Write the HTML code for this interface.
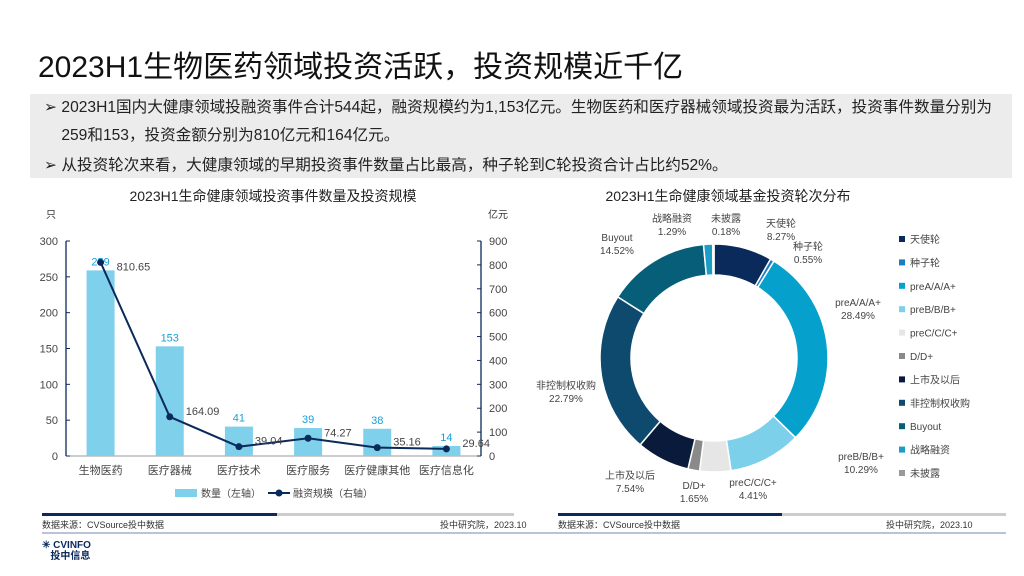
<!DOCTYPE html>
<html><head><meta charset="utf-8"><style>
body{margin:0;width:1024px;height:576px;background:#fff;font-family:"Liberation Sans","Noto Sans CJK SC",sans-serif;position:relative;overflow:hidden;color:#222}
.abs{position:absolute}
</style></head><body>
<div class="abs" style="left:38px;top:42px;font-size:30px;color:#111">2023H1生物医药领域投资活跃，投资规模近千亿</div>
<div class="abs" style="left:30px;top:94px;width:982px;height:84px;background:#ececec"></div>
<div class="abs" style="left:44px;top:94px;width:970px;font-size:15.6px;line-height:28px;color:#222;white-space:nowrap">
<div>➢ 2023H1国内大健康领域投融资事件合计544起，融资规模约为1,153亿元。生物医药和医疗器械领域投资最为活跃，投资事件数量分别为<br>&nbsp;&nbsp;&nbsp;&nbsp;259和153，投资金额分别为810亿元和164亿元。</div>
<div style="margin-top:2px">➢ 从投资轮次来看，大健康领域的早期投资事件数量占比最高，种子轮到C轮投资合计占比约52%。</div>
</div>
<svg class="abs" style="left:0;top:0" width="1024" height="576" id="svg"></svg>
<div class="abs" style="left:42px;top:513px;width:235px;height:3px;background:#0b2a5c"></div>
<div class="abs" style="left:277px;top:513px;width:237px;height:3px;background:#ccc"></div>
<div class="abs" style="left:558px;top:513px;width:224px;height:3px;background:#0b2a5c"></div>
<div class="abs" style="left:782px;top:513px;width:224px;height:3px;background:#ccc"></div>
<div class="abs" style="left:42px;top:518px;font-size:9px;color:#333">数据来源：CVSource投中数据</div>
<div class="abs" style="left:440px;top:518px;font-size:9px;color:#333">投中研究院，2023.10</div>
<div class="abs" style="left:558px;top:518px;font-size:9px;color:#333">数据来源：CVSource投中数据</div>
<div class="abs" style="left:886px;top:518px;font-size:9px;color:#333">投中研究院，2023.10</div>
<div class="abs" style="left:42px;top:532px;width:964px;height:2px;background:#b8c4d8"></div>
<div class="abs" style="left:42px;top:540px;font-size:10px;color:#0b2a5c;font-weight:bold;line-height:11px">✳ CVINFO<br>&nbsp;&nbsp;&nbsp;投中信息</div>
<script>
const categories=["生物医药","医疗器械","医疗技术","医疗服务","医疗健康其他","医疗信息化"];
const counts=[259,153,41,39,38,14];
const amounts=[810.65,164.09,39.04,74.27,35.16,29.64];
const leftTicks=[0,50,100,150,200,250,300];
const rightTicks=[0,100,200,300,400,500,600,700,800,900];
const roundNames=["天使轮","种子轮","preA/A/A+","preB/B/B+","preC/C/C+","D/D+","上市及以后","非控制权收购","Buyout","战略融资","未披露"];
const roundPct=[8.27,0.55,28.49,10.29,4.41,1.65,7.54,22.79,14.52,1.29,0.18];
const roundColors=["#0b2a5c","#1a7fc0","#06a0cc","#7dd0ea","#e6e6e6","#8a8a8a","#0a1a3a","#0d4a6e","#075e78","#1a9ec8","#999999"];
const svg=document.getElementById('svg');const NS="http://www.w3.org/2000/svg";
function el(t,a,txt){const e=document.createElementNS(NS,t);for(const k in a)e.setAttribute(k,a[k]);if(txt!=null)e.textContent=txt;svg.appendChild(e);return e;}
const x0=66,x1=481,yb=456,yt=241;
const yL=v=>yb-(v/300)*(yb-yt), yR=v=>yb-(v/900)*(yb-yt);
const step=(x1-x0)/categories.length, cx=i=>x0+step*(i+0.5);
let t=el('text',{x:273,y:201,'font-size':14,'text-anchor':'middle',fill:'#222'},'2023H1生命健康领域投资事件数量及投资规模');

el('text',{x:46,y:218,'font-size':10,fill:'#333'},'只');
el('text',{x:488,y:218,'font-size':10,fill:'#333'},'亿元');
el('line',{x1:x0,y1:yt,x2:x0,y2:yb,stroke:'#0b2a5c','stroke-width':1.3});
el('line',{x1:x1,y1:yt,x2:x1,y2:yb,stroke:'#0b2a5c','stroke-width':1.3});
el('line',{x1:x0,y1:yb,x2:x1,y2:yb,stroke:'#999','stroke-width':1});
leftTicks.forEach(v=>{el('line',{x1:x0,y1:yL(v),x2:x0+4,y2:yL(v),stroke:'#0b2a5c'});const e=el('text',{x:x0-8,y:yL(v)+4,'font-size':11,'text-anchor':'end',fill:'#444'},v);});
rightTicks.forEach(v=>{el('line',{x1:x1-4,y1:yR(v),x2:x1,y2:yR(v),stroke:'#0b2a5c'});const e=el('text',{x:x1+8,y:yR(v)+4,'font-size':11,fill:'#444'},v);});
categories.forEach((c,i)=>{
 const b=el('rect',{x:cx(i)-14,y:yL(counts[i]),width:28,height:yb-yL(counts[i]),fill:'#7fd0ea'});
 
 el('text',{x:cx(i),y:yL(counts[i])-5,'font-size':11,'text-anchor':'middle',fill:'#18a0d8'},counts[i]);
 const e=el('text',{x:cx(i),y:474,'font-size':11,'text-anchor':'middle',fill:'#444'},c);
 
});
el('polyline',{points:amounts.map((v,i)=>cx(i)+','+yR(v)).join(' '),fill:'none',stroke:'#0b2a5c','stroke-width':2});
amounts.forEach((v,i)=>{const p=el('circle',{cx:cx(i),cy:yR(v),r:3.5,fill:'#0b2a5c'});
 el('text',{x:cx(i)+16,y:yR(v)-2+(i==0?10:0),'font-size':11,fill:'#444'},v.toFixed(2));});
el('rect',{x:175,y:489,width:22,height:8,fill:'#7fd0ea'});
el('text',{x:201,y:497,'font-size':10,fill:'#444'},'数量（左轴）');
el('line',{x1:268,y1:493,x2:290,y2:493,stroke:'#0b2a5c','stroke-width':2});
el('circle',{cx:279,cy:493,r:3.5,fill:'#0b2a5c'});
el('text',{x:293,y:497,'font-size':10,fill:'#444'},'融资规模（右轴）');
t=el('text',{x:728,y:201,'font-size':14,'text-anchor':'middle',fill:'#222'},'2023H1生命健康领域基金投资轮次分布');

const dcx=714,dcy=358,R=114,r=83,tot=roundPct.reduce((a,b)=>a+b,0);
let a=0;const pt=(ang,rad)=>[dcx+rad*Math.sin(ang),dcy-rad*Math.cos(ang)];
roundPct.forEach((p,i)=>{const a0=a,a1=a+p/tot*2*Math.PI;a=a1;
 const [x1o,y1o]=pt(a0,R),[x2o,y2o]=pt(a1,R),[x2i,y2i]=pt(a1,r),[x1i,y1i]=pt(a0,r);const lg=(a1-a0)>Math.PI?1:0;
 const s=el('path',{d:`M${x1o},${y1o}A${R},${R} 0 ${lg} 1 ${x2o},${y2o}L${x2i},${y2i}A${r},${r} 0 ${lg} 0 ${x1i},${y1i}Z`,fill:roundColors[i],stroke:'#fff','stroke-width':1.5});
 });
const lab=[[781,227],[808,250],[858,306],[861,460],[753,486],[694,489],[630,479],[566,389],[617,241],[672,222],[726,222]];
roundNames.forEach((n,i)=>{el('text',{x:lab[i][0],y:lab[i][1],'font-size':10,'text-anchor':'middle',fill:'#444'},n);
 el('text',{x:lab[i][0],y:lab[i][1]+13,'font-size':10,'text-anchor':'middle',fill:'#444'},roundPct[i].toFixed(2)+'%');
 el('rect',{x:899,y:236+i*23.4,width:6,height:6,fill:roundColors[i]});
 const e=el('text',{x:910,y:243+i*23.4,'font-size':10,fill:'#444'},n);});
</script>
</body></html>
